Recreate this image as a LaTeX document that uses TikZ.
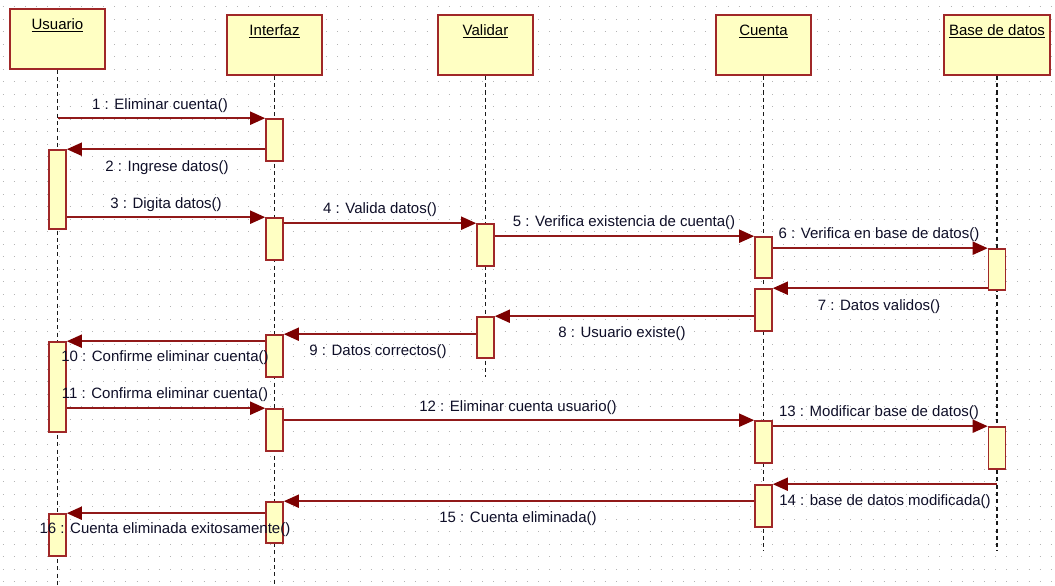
\documentclass[tikz,border=0pt]{standalone}
\usepackage{fontspec}
\setmainfont{Liberation Sans}
\usetikzlibrary{arrows.meta}
\definecolor{msgred}{RGB}{145,25,25}
\definecolor{headred}{RGB}{125,0,0}
\definecolor{boxred}{RGB}{160,40,40}
\definecolor{boxfill}{RGB}{255,255,195}
\definecolor{txtcol}{RGB}{15,15,40}
\definecolor{dotcol}{RGB}{180,180,180}
\definecolor{lifecol}{RGB}{25,25,25}
\tikzset{
  hdr/.style={draw=boxred, fill=boxfill, line width=1.8pt, minimum width=95pt, minimum height=60pt, inner sep=0pt},
  hdrtxt/.style={inner sep=0pt, text=black, font=\fontsize{15}{18}\selectfont},
  actbar/.style={draw=boxred, fill=boxfill, line width=1.6pt, minimum width=17pt, inner sep=0pt},
  msg/.style={draw=msgred, line width=1.9pt, -{Triangle[length=15pt,width=13pt,color=headred]}},
  lbl/.style={inner sep=0pt, text=txtcol, font=\fontsize{15}{18}\selectfont},
  life/.style={draw=lifecol, line width=1.5pt, dash pattern=on 4pt off 3.3pt},
}
\begin{document}
\begin{tikzpicture}[x=1pt, y=-1pt]
\useasboundingbox (0,0) rectangle (1055,586);
\fill[white] (0,0) rectangle (1055,586);
% dot grid
\foreach \k in {0,...,46}{
  \draw[dotcol, line width=1pt, dash pattern=on 1pt off 10.15pt] (2.8,{6.7+12.5*\k}) -- (1055,{6.7+12.5*\k});
}
% header boxes
\node[hdr] (usr) at (57.5,39) {};
\node[hdr] (itf) at (274.5,45) {};
\node[hdr] (val) at (485.5,45) {};
\node[hdr] (cta) at (763.5,45) {};
\node[hdr, minimum width=106pt] (bdd) at (997,45) {};
% lifeline ends
\coordinate (usrEnd) at (57.5,586);
\coordinate (itfEnd) at (274.5,586);
\coordinate (valEnd) at (485.5,377);
\coordinate (ctaEnd) at (763.5,551);
\coordinate (bddEnd) at (997,551);
\draw[life] (usr.south) -- (usrEnd);
\draw[life] (itf.south) -- (itfEnd);
\draw[life] (val.south) -- (valEnd);
\draw[life] (cta.south) -- (ctaEnd);
\draw[life] (bdd.south) -- (bddEnd);
% header texts
\node[hdrtxt] (tusr) at ([yshift=-17pt]usr.north) {\underline{Usuario}};
\node[hdrtxt] (titf) at ([yshift=-17pt]itf.north) {\underline{Interfaz}};
\node[hdrtxt] (tval) at ([yshift=-17pt]val.north) {\underline{Validar}};
\node[hdrtxt] (tcta) at ([yshift=-17pt]cta.north) {\underline{Cuenta}};
\node[hdrtxt] (tbdd) at ([yshift=-17pt]bdd.north) {\underline{Base de datos}};
% activation bars
\node[actbar, minimum height=79pt] (u1) at (57.5,189.5) {};
\node[actbar, minimum height=90pt] (u2) at (57.5,387) {};
\node[actbar, minimum height=42pt] (u3) at (57.5,535) {};
\node[actbar, minimum height=42pt] (i1) at (274.5,140) {};
\node[actbar, minimum height=42pt] (i2) at (274.5,239) {};
\node[actbar, minimum height=42pt] (i3) at (274.5,356) {};
\node[actbar, minimum height=42pt] (i4) at (274.5,430) {};
\node[actbar, minimum height=41pt] (i5) at (274.5,522.5) {};
\node[actbar, minimum height=42pt] (v1) at (485.5,245) {};
\node[actbar, minimum height=41pt] (v2) at (485.5,337.5) {};
\node[actbar, minimum height=41pt] (c1) at (763.5,257.5) {};
\node[actbar, minimum height=42pt] (c2) at (763.5,310) {};
\node[actbar, minimum height=42pt] (c3) at (763.5,442) {};
\node[actbar, minimum height=42pt] (c4) at (763.5,506) {};
\node[actbar, minimum height=41pt] (b1) at (997,269.5) {};
\node[actbar, minimum height=42pt] (b2) at (997,448) {};
% messages
\draw[msg] (usr.south |- i1.north west) -- (i1.north west);
\draw[msg] (i1.west |- u1.north east) -- (u1.north east);
\draw[msg] (u1.east |- i2.north west) -- (i2.north west);
\draw[msg] (i2.east |- v1.north west) -- (v1.north west);
\draw[msg] (v1.east |- c1.north west) -- (c1.north west);
\draw[msg] (c1.east |- b1.north west) -- (b1.north west);
\draw[msg] (b1.west |- c2.north east) -- (c2.north east);
\draw[msg] (c2.west |- v2.north east) -- (v2.north east);
\draw[msg] (v2.west |- i3.north east) -- (i3.north east);
\draw[msg] (i3.west |- u2.north east) -- (u2.north east);
\draw[msg] (u2.east |- i4.north west) -- (i4.north west);
\draw[msg] (i4.east |- c3.north west) -- (c3.north west);
\draw[msg] (c3.east |- b2.north west) -- (b2.north west);
\draw[msg] (bdd.south |- c4.north east) -- (c4.north east);
\draw[msg] (c4.west |- i5.north east) -- (i5.north east);
\draw[msg] (i5.west |- u3.north east) -- (u3.north east);
% labels
\node[lbl] (m1) at (160,106) {1 : Eliminar cuenta()};
\node[lbl] (m2) at (167,168) {2 : Ingrese datos()};
\node[lbl] (m3) at (166,205) {3 : Digita datos()};
\node[lbl] (m4) at (380,210) {4 : Valida datos()};
\node[lbl] (m5) at (624,223) {5 : Verifica existencia de cuenta()};
\node[lbl] (m6) at (879,235) {6 : Verifica en base de datos()};
\node[lbl] (m7) at (879,307) {7 : Datos validos()};
\node[lbl] (m8) at (622,334) {8 : Usuario existe()};
\node[lbl] (m9) at (378,352) {9 : Datos correctos()};
\node[lbl] (m10) at (165,358) {10 : Confirme eliminar cuenta()};
\node[lbl] (m11) at (165,395) {11 : Confirma eliminar cuenta()};
\node[lbl] (m12) at (518,408) {12 : Eliminar cuenta usuario()};
\node[lbl] (m13) at (879,413) {13 : Modificar base de datos()};
\node[lbl] (m14) at (885,502) {14 : base de datos modificada()};
\node[lbl] (m15) at (518,519) {15 : Cuenta eliminada()};
\node[lbl] (m16) at (165,530) {16 : Cuenta eliminada exitosamente()};
\end{tikzpicture}
\end{document}
